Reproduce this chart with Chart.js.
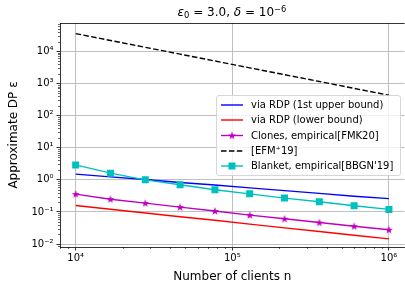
<!DOCTYPE html>
<html>
<head>
<meta charset="utf-8">
<script src="https://cdn.jsdelivr.net/npm/chart.js@4/dist/chart.umd.min.js"></script>
<style>
  html, body { margin: 0; padding: 0; background: #fff; overflow: hidden; }
  #wrap { width: 405px; height: 286px; overflow: hidden; }
</style>
</head>
<body>
<div id="wrap"><canvas id="grafico" width="410" height="286"></canvas></div>
<script>
// número de clientes (eixo x)
const clientes = [10000, 16681, 27826, 46416, 77426, 129155, 215443, 359381, 599484, 1000000];

// séries
const rdpSuperior = [1.50, 1.24, 1.02, 0.83, 0.69, 0.56, 0.46, 0.38, 0.31, 0.26];
const rdpInferior = [0.159, 0.121, 0.093, 0.071, 0.055, 0.042, 0.032, 0.0246, 0.0189, 0.0145];
const clonesEmp   = [0.36, 0.25, 0.189, 0.142, 0.107, 0.080, 0.0615, 0.047, 0.036, 0.028];
const efm19       = [35500, 21700, 13300, 8150, 4990, 3050, 1870, 1150, 700, 430];
const blanketEmp  = [2.92, 1.61, 1.0, 0.70, 0.49, 0.367, 0.27, 0.207, 0.156, 0.12];

const legendas = [
  'via RDP (1st upper bound)',
  'via RDP (lower bound)',
  'Clones, empirical[FMK20]',
  '[EFM\u207A19]',
  "Blanket, empirical[BBGN'19]"
];

const SUP = { '-': '\u207B', '0': '\u2070', '1': '\u00B9', '2': '\u00B2', '3': '\u00B3',
  '4': '\u2074', '5': '\u2075', '6': '\u2076', '7': '\u2077', '8': '\u2078', '9': '\u2079' };

function potencia(v) {
  const e = Math.round(Math.log10(v));
  return '10' + String(e).split('').map(c => SUP[c]).join('');
}

function ticksLog(min, max) {
  const t = [];
  for (let e = Math.floor(Math.log10(min)); e <= Math.ceil(Math.log10(max)); e++) {
    for (let m = 1; m < 10; m++) {
      const v = m * Math.pow(10, e);
      if (v >= min && v <= max) t.push({ value: v, major: m === 1 });
    }
  }
  return t;
}

// estrela preenchida como no matplotlib
function criarEstrela(cor) {
  const c = document.createElement('canvas');
  c.width = 10; c.height = 10;
  const g = c.getContext('2d');
  g.beginPath();
  for (let i = 0; i < 10; i++) {
    const r = i % 2 === 0 ? 4.2 : 1.7;
    const a = -Math.PI / 2 + i * Math.PI / 5;
    const px = 5 + r * Math.cos(a), py = 5.3 + r * Math.sin(a);
    i === 0 ? g.moveTo(px, py) : g.lineTo(px, py);
  }
  g.closePath();
  g.fillStyle = cor;
  g.fill();
  return c;
}
const estrela = criarEstrela('#bf00bf');

const pontos = arr => arr.map((y, i) => ({ x: clientes[i], y: y }));

const fonte = 'DejaVu Sans';

// texto com partes em itálico / subscrito
function desenharRuns(ctx, runs, cx, cy, size) {
  const medir = r => {
    ctx.font = (r.it ? 'italic ' : '') + (r.small ? size * 0.7 : size) + 'px "' + fonte + '"';
    return ctx.measureText(r.t).width;
  };
  const total = runs.reduce((s, r) => s + medir(r), 0);
  let x = cx - total / 2;
  ctx.textBaseline = 'alphabetic';
  ctx.textAlign = 'left';
  ctx.fillStyle = '#000';
  runs.forEach(r => {
    const w = medir(r);
    ctx.fillText(r.t, x, cy + (r.dy || 0));
    x += w;
  });
}

const pluginExtras = {
  id: 'extras',
  afterDraw(chart) {
    const { ctx, chartArea } = chart;
    ctx.save();
    // borda superior
    ctx.strokeStyle = '#000';
    ctx.lineWidth = 0.8;
    ctx.beginPath();
    ctx.moveTo(chartArea.left, chartArea.top + 0.5);
    ctx.lineTo(chartArea.right, chartArea.top + 0.5);
    ctx.stroke();

    // ticks menores
    ctx.lineWidth = 0.6;
    const xs = chart.scales.x, ys = chart.scales.y;
    xs.ticks.forEach(t => {
      if (t.major) return;
      const px = Math.round(xs.getPixelForValue(t.value)) + 0.5;
      ctx.beginPath();
      ctx.moveTo(px, chartArea.bottom);
      ctx.lineTo(px, chartArea.bottom + 2);
      ctx.stroke();
    });
    ys.ticks.forEach(t => {
      if (t.major) return;
      const py = Math.round(ys.getPixelForValue(t.value)) + 0.5;
      ctx.beginPath();
      ctx.moveTo(chartArea.left, py);
      ctx.lineTo(chartArea.left - 2, py);
      ctx.stroke();
    });

    // título
    desenharRuns(ctx, [
      { t: '\u03B5', it: true },
      { t: '0', small: true, dy: 2 },
      { t: ' = 3.0, ' },
      { t: '\u03B4', it: true },
      { t: ' = 10' },
      { t: '\u22126', small: true, dy: -4.5 }
    ], 232, 16, 12);

    // legenda
    const bx = 216.5, by = 95.5, bw = 184, bh = 80;
    ctx.fillStyle = 'rgba(255,255,255,0.8)';
    ctx.strokeStyle = '#cccccc';
    ctx.lineWidth = 0.8;
    ctx.beginPath();
    ctx.roundRect(bx, by, bw, bh, 2.5);
    ctx.fill();
    ctx.stroke();

    const linhasY = [105, 120, 135.5, 151, 166];
    chart.data.datasets.forEach((ds, i) => {
      const y = linhasY[i];
      ctx.strokeStyle = ds.borderColor;
      ctx.lineWidth = ds.borderWidth;
      ctx.setLineDash(ds.borderDash || []);
      ctx.beginPath();
      ctx.moveTo(221, y);
      ctx.lineTo(243, y);
      ctx.stroke();
      ctx.setLineDash([]);
      if (ds.pointStyle === 'rect') {
        const s = 7;
        ctx.fillStyle = ds.pointBackgroundColor;
        ctx.fillRect(232 - s / 2, y - s / 2, s, s);
      } else if (ds.pointStyle && typeof ds.pointStyle === 'object') {
        ctx.drawImage(ds.pointStyle, 232 - 5, y - 5);
      }
      ctx.fillStyle = '#000';
      ctx.font = '10px "' + fonte + '"';
      ctx.textAlign = 'left';
      ctx.textBaseline = 'middle';
      ctx.fillText(ds.label, 251, y + 0.5);
    });
    ctx.restore();
  }
};

const xMin = Math.pow(10, 3.9), xMax = Math.pow(10, 6.1);
const yMin = Math.pow(10, -2.09), yMax = Math.pow(10, 4.88);

new Chart(document.getElementById('grafico'), {
  type: 'line',
  data: {
    datasets: [
      { label: legendas[0], data: pontos(rdpSuperior), borderColor: '#0000ff', borderWidth: 1.4, pointRadius: 0, order: 5 },
      { label: legendas[1], data: pontos(rdpInferior), borderColor: '#ff0000', borderWidth: 1.4, pointRadius: 0, order: 4 },
      { label: legendas[2], data: pontos(clonesEmp), borderColor: '#bf00bf', borderWidth: 1.4,
        pointStyle: estrela, pointRadius: 4, order: 3 },
      { label: legendas[3], data: pontos(efm19), borderColor: '#000000', borderWidth: 1.4,
        borderDash: [5.5, 2.4], pointRadius: 0, order: 2 },
      { label: legendas[4], data: pontos(blanketEmp), borderColor: '#00bfbf', borderWidth: 1.4,
        pointStyle: 'rect', pointRadius: 4.95, pointBorderWidth: 0,
        pointBackgroundColor: '#00bfbf', order: 1 }
    ]
  },
  options: {
    responsive: false,
    animation: false,
    devicePixelRatio: 1,
    layout: { padding: { top: 23, right: 1.5, left: 0, bottom: 0 } },
    plugins: { legend: { display: false }, title: { display: false }, tooltip: { enabled: false } },
    elements: { line: { tension: 0, fill: false } },
    scales: {
      x: {
        type: 'logarithmic',
        min: xMin, max: xMax,
        afterBuildTicks: s => { s.ticks = ticksLog(xMin, xMax); },
        afterFit: s => { s.height = 39; },
        grid: {
          color: c => (c.tick && c.tick.major) ? '#b0b0b0' : 'rgba(0,0,0,0)',
          tickColor: c => (c.tick && c.tick.major) ? '#000' : 'rgba(0,0,0,0)',
          lineWidth: 0.8,
          tickLength: 3.5
        },
        border: { display: true, color: '#000', width: 0.8 },
        ticks: {
          autoSkip: false, maxRotation: 0, padding: 2,
          color: '#000', font: { family: fonte, size: 10 },
          callback: (v, i, ts) => ts[i].major ? potencia(v) : ''
        },
        title: { display: true, text: 'Number of clients n', color: '#000',
          font: { family: fonte, size: 12 }, padding: { top: 0, bottom: 1.5 } }
      },
      y: {
        type: 'logarithmic',
        min: yMin, max: yMax,
        afterBuildTicks: s => { s.ticks = ticksLog(yMin, yMax); },
        afterFit: s => { s.width = 60; },
        grid: {
          color: c => (c.tick && c.tick.major) ? '#b0b0b0' : 'rgba(0,0,0,0)',
          tickColor: c => (c.tick && c.tick.major) ? '#000' : 'rgba(0,0,0,0)',
          lineWidth: 0.8,
          tickLength: 3.5
        },
        border: { display: true, color: '#000', width: 0.8 },
        ticks: {
          autoSkip: false, padding: 3,
          color: '#000', font: { family: fonte, size: 10 },
          callback: (v, i, ts) => ts[i].major ? potencia(v) : ''
        },
        title: { display: true, text: 'Approximate DP \u03B5', color: '#000',
          font: { family: fonte, size: 12 }, padding: { top: 6.8, bottom: 0 } }
      }
    }
  },
  plugins: [pluginExtras]
});
</script>
</body>
</html>
